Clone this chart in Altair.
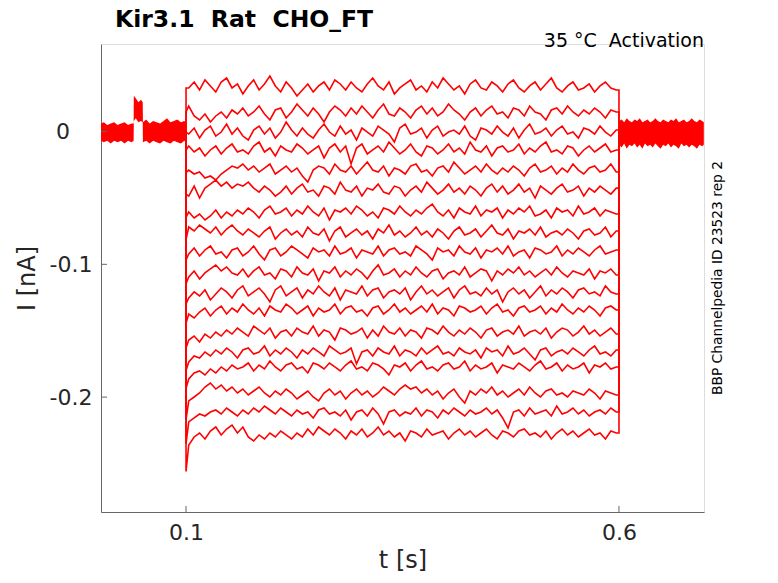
import altair as alt
import pandas as pd

# -----------------------------
# values
# -----------------------------
# steady current of each sweep during the step (nA), top to bottom
levels = [0.0328, 0.0147, -0.0004, -0.0139, -0.0290, -0.0441, -0.0606, -0.0764, -0.0907,
          -0.1065, -0.1208, -0.1344, -0.1510, -0.1660, -0.1773, -0.1969, -0.2112, -0.2270]

# extra dip right at the step onset (nA)
onset_dip = [0, 0, 0, 0, -0.002, -0.003, -0.004, -0.005, -0.006, -0.008, -0.009,
             -0.010, -0.012, -0.014, -0.016, -0.020, -0.024, -0.029]

# wiggle of each sweep around its level, in steps of 1.5 pA, sampled across 0.1-0.6 s
WIGGLE_STEP = 0.0015
wiggle = [
    [0, 3, -1, 4, 1, -2, 3, 5, 0, 2, -3, 1, 4, -1, 2, 6, 1, -2, 3, 0,
     -4, -1, 2, -2, 1, 3, -1, 4, 2, -1, 3, 0, -2, 2, 5, 1, -1, 3, -3, 0,
     2, 4, -1, 1, -2, 3, 0, 5, 2, -1, 1, -3, 2, 4, 0, -1, 3, 1, -2, 2,
     4, 0, -2, 1, 3, -1, 2, 5, 0, -2, 1, 3, -1, 0, 2, -2, 1, 3, 0, -1],
    [3, -2, -4, -1, -5, -2, 0, -3, 1, -1, 2, -2, 0, 3, -1, -4, 1, 2, -3, 0,
     4, 1, -2, 2, -1, -5, 0, 3, 1, -2, 2, -1, 3, 0, -3, 1, 4, -1, -2, 2,
     0, -3, 1, 3, -1, 2, -2, 0, 4, 1, -1, -4, 0, 2, -2, 1, 3, -1, 0, -3,
     2, 1, -2, 3, 0, -1, -4, 1, 2, -1, 3, 0, -2, 1, -1, 2, 0, -3, 1, 0],
    [-1, 2, -3, 1, 3, -2, 0, 4, -1, 2, -2, -4, 1, 3, -1, 2, -3, 0, 5, 1,
     -2, 2, -1, -3, 1, 4, 0, -2, 3, -1, 1, -4, 2, 0, -2, 3, 1, -1, -5, 2,
     4, -1, 0, 2, -3, 1, 3, -2, 0, 1, -1, 3, -2, -4, 2, 1, -1, 3, 0, -2,
     2, -3, 1, 4, -1, 0, 2, -2, 1, 3, -1, 0, -3, 2, 1, -1, 3, 0, -2, 1],
    [2, -1, 1, -3, 0, 2, -2, 1, 3, -1, 0, -2, 2, 4, -1, 1, -3, 2, 0, -1,
     3, 1, -2, 0, 2, -4, 1, 3, -1, 2, -7, 1, 3, -2, 0, 2, -1, 4, 1, -2,
     0, 3, -1, -3, 2, 1, -2, 0, 3, -1, 1, -2, 4, 0, -1, 2, -3, 1, 2, -1,
     0, 3, -2, 1, -1, 2, 4, -1, 0, -2, 2, 1, -3, 0, 2, -1, 1, 3, -1, 0],
    [0, -2, -1, -4, -3, -5, -2, 0, 2, 1, 3, 0, 2, -1, 1, 3, -2, 0, 2, -1,
     1, -3, -6, 0, 2, 1, -2, 3, 0, -1, 2, -2, 1, 4, 0, -1, 2, -3, 1, 0,
     -2, 2, 3, -1, 0, -3, 1, 2, -1, 4, 1, -2, 0, 2, -1, 3, 0, -2, 1, -1,
     2, 0, -3, 1, 3, -1, 0, 2, -2, 1, -1, 3, 0, -2, 1, 2, -1, 0, 3, -1],
    [-3, 2, -4, 1, 3, 5, 2, 4, 1, 3, 2, 4, 1, -1, 2, 0, -3, -1, 2, -2,
     1, 3, -1, 0, -3, 2, 1, -2, 4, 0, -1, 2, -3, 1, 0, 3, -1, -2, 2, 1,
     -3, 0, 2, -1, 4, 1, -2, 0, 3, -1, 1, -2, 2, 0, -3, 1, 3, -1, 2, -2,
     0, 3, -1, 1, -4, 2, 0, -2, 1, 3, -1, 0, 2, -3, 1, -1, 2, 0, -2, 1],
    [0, -3, -1, -4, -2, 1, -3, 0, -2, 1, -1, 2, 0, -3, 1, 3, -1, 0, 2, -2,
     1, -1, 3, 0, -2, 2, -4, 1, 0, 2, -1, 3, 1, -2, 0, -3, 2, 1, -1, 3,
     0, -2, 1, -1, 2, 4, 0, -2, 1, -3, 2, 0, -1, 3, -2, 1, 0, 2, -3, 1,
     -1, 2, 0, 3, -2, -1, 1, -3, 2, 0, 1, -2, 3, -1, 0, 2, -2, 1, 0, -1],
    [3, 1, 4, 2, 0, 3, -1, 2, 4, 1, -1, 2, 0, -2, 1, 3, -3, 0, 2, -1,
     1, -2, 3, 0, -1, 2, -4, 1, 3, -2, 0, 2, -1, 1, -3, 2, 0, 4, -1, 1,
     -2, 0, 3, -1, 1, -2, 2, 0, -3, 1, 3, -1, 0, 2, -2, 1, 4, 0, -1, 2,
     -3, 1, 0, 2, -1, 3, -2, 0, 1, -1, 2, 0, -3, 1, 2, -1, 0, 3, -2, 1],
    [-1, 2, -2, 1, 3, -1, 0, -3, 1, 2, -2, 0, 3, -1, -4, 1, 2, -2, 0, 3,
     1, -1, -3, 2, 0, 1, -2, 3, -1, 0, 2, -3, 1, 0, -1, 3, -2, 1, 2, -1,
     0, -2, 3, 1, -1, -4, 2, 0, 1, -2, 3, 0, -1, 2, -3, 1, 0, 2, -1, 3,
     -2, 0, 1, -3, 2, 1, -1, 0, 3, -2, 1, -1, 2, 0, -2, 1, 3, -1, 0, 1],
    [-2, 1, -3, 0, 2, 4, 1, 3, 0, -1, 2, -2, 1, 3, -1, 0, -3, 2, 1, -2,
     3, 0, -1, 2, -4, 1, 0, 3, -2, 1, -1, 2, 0, -3, 1, 4, -1, 0, 2, -2,
     1, -1, 3, 0, -2, 1, 2, -3, 0, 1, -1, 3, -2, 0, 2, 1, -4, 1, -1, 2,
     0, 3, -1, 1, -2, 0, 2, -1, 3, 0, -2, 1, 0, -1, 2, -3, 1, 0, 2, -1],
    [-3, 0, -2, 1, -4, -1, 2, 0, -3, 1, 3, -2, 0, 2, -1, -5, 1, 3, -2, 0,
     2, -3, 1, -1, 3, 0, -2, 2, -4, 1, 0, -1, 3, -2, 1, 2, -3, 0, 1, -1,
     2, -4, 0, 3, -1, 1, -2, 0, 2, -3, 1, 3, -1, 0, -2, 2, -1, 1, -5, 0,
     2, -1, 1, -3, 0, 3, -2, 1, -1, 2, 0, -3, 1, 2, -1, 0, -2, 3, 0, -1],
    [-2, -4, -1, 1, -3, 0, 2, -2, 1, -1, 3, 0, -2, 1, -3, 2, 0, -1, 3, 1,
     -2, 0, 2, -3, 1, -1, 0, 3, -2, 1, 2, -1, 0, -3, 1, 2, -2, 0, 3, -1,
     1, -2, 0, 2, -1, 3, -2, 1, 0, -3, 2, 1, -1, 0, 2, -2, 1, 3, -1, 0,
     -3, 1, 2, -1, 0, 2, -2, 1, -1, 3, 0, -2, 1, -1, 2, 0, -3, 1, 2, 0],
    [-4, -2, -5, -1, -3, 0, -2, 1, -1, 2, 0, -2, 3, 1, -1, 2, -3, 0, 1, -2,
     2, 0, -1, 3, -2, 1, 0, -4, 2, 1, -1, 0, 2, -3, 1, -2, 3, 0, -1, 2,
     -2, 1, 0, -3, 2, 1, -1, 3, 0, -2, 1, -1, 2, 0, -3, 1, 2, -2, 0, 1,
     -1, 3, -2, 0, 1, -1, 2, -3, 0, 2, 1, -2, 0, 3, -1, 1, -2, 0, 2, -1],
    [-5, -2, -3, 0, -2, 1, -1, 2, 0, -3, 1, 2, -1, 0, 3, -2, 1, -1, 2, 0,
     -3, 1, -1, 2, 0, -2, 3, 1, -1, 0, 2, -6, 0, 1, -2, 2, 0, -1, 3, -2,
     1, 0, -2, 2, -1, 1, 3, -1, 0, -2, 2, 0, -1, 1, -3, 2, 0, 1, -2, 3,
     -1, 0, 2, -1, -4, 1, 2, -2, 0, 1, -1, 2, 0, -2, 1, 3, -1, 0, -2, 1],
    [-6, -3, -2, -4, -1, -3, 0, -2, 1, -1, 0, 2, -2, 1, -1, 3, 0, -2, 1, 2,
     -1, 0, -3, 2, 1, -1, 2, 0, -2, 1, 3, -1, 0, -2, 2, 1, -1, -4, 1, 0,
     2, -2, 1, 3, -1, 0, -2, 1, 2, -1, 0, 3, -2, 1, -1, 0, 2, -3, 1, 0,
     -1, 2, 0, -2, 1, 3, -1, 0, 2, -2, 1, -1, 0, 2, -3, 1, 0, 2, -1, 0],
    [-4, -2, 0, 3, 5, 2, 4, 1, 3, 0, 2, -1, 1, 3, 0, -2, 1, -1, 2, 0,
     -3, -1, 1, -2, -4, 0, 2, -1, 1, -3, 0, 2, -1, 1, -2, 0, 3, 1, -1, 2,
     4, 2, 3, 0, 2, -1, 1, -3, 0, 2, -2, -5, 1, -1, 2, 0, 3, -1, 1, -2,
     0, 2, -1, 3, 0, -2, 1, 2, -1, 0, -2, 1, 0, -1, 2, 0, -3, 1, 0, -1],
    [-5, -3, -1, -2, 0, 1, -1, 2, 0, -2, 1, -1, 2, 0, 3, 1, -1, 2, 0, -2,
     1, -1, 0, -3, 1, 2, -1, 0, -2, 1, -4, 0, 1, -2, 2, -1, -6, 0, 1, -2,
     0, -1, 2, -2, 1, 0, -3, 1, -1, 2, 0, -2, 1, -1, 0, 2, -1, 1, -3, -8,
     0, 1, -2, 2, -1, 0, 1, -2, 3, -1, 0, 2, -1, 1, -2, 0, 1, -1, 2, 0],
    [-6, -2, 0, -3, 1, 3, -1, 2, 4, 0, 3, -2, -4, -1, -3, 0, -2, 1, -1, -3,
     0, -2, 2, -1, 3, 1, -1, 2, 0, -3, 1, -1, 2, -2, 0, 3, -1, 1, -2, 0,
     -4, 1, 0, -2, 2, -1, 0, 1, -3, 0, 2, -1, 1, -2, 0, 2, -1, -3, 1, 0,
     -2, 1, 2, -1, 0, -2, 1, -3, 0, 2, -1, 1, -2, 0, 2, -1, 0, -3, 1, 0],
]

# holding current band before the step, with the short test pulse (nA)
pre_t = [0.0018, 0.005, 0.009, 0.013, 0.017, 0.021, 0.025, 0.029, 0.033, 0.037, 0.0395,
         0.0397, 0.042, 0.045, 0.048, 0.0500, 0.0502, 0.054, 0.058, 0.062, 0.066, 0.070,
         0.074, 0.078, 0.082, 0.086, 0.090, 0.094, 0.098, 0.1]
pre_lo = [-0.007, -0.008, -0.007, -0.009, -0.007, -0.008, -0.007, -0.009, -0.007, -0.008, -0.007,
          0.008, 0.010, 0.007, 0.008, 0.007, -0.008, -0.007, -0.009, -0.007, -0.008, -0.009,
          -0.007, -0.008, -0.009, -0.007, -0.008, -0.009, -0.007, -0.008]
pre_hi = [0.006, 0.007, 0.005, 0.006, 0.007, 0.005, 0.006, 0.007, 0.005, 0.006, 0.006,
          0.027, 0.025, 0.022, 0.024, 0.022, 0.007, 0.009, 0.006, 0.008, 0.007, 0.006,
          0.008, 0.010, 0.007, 0.008, 0.009, 0.007, 0.008, 0.007]

# tail band after the step (nA)
post_t = [0.6002, 0.603, 0.606, 0.609, 0.612, 0.615, 0.618, 0.621, 0.624, 0.627, 0.630,
          0.633, 0.636, 0.639, 0.642, 0.645, 0.648, 0.651, 0.654, 0.657, 0.660, 0.663,
          0.666, 0.669, 0.672, 0.675, 0.678, 0.681, 0.684, 0.687, 0.690, 0.693, 0.696, 0.698]
post_lo = [-0.010, -0.012, -0.009, -0.013, -0.010, -0.011, -0.009, -0.012, -0.010, -0.013, -0.009,
           -0.011, -0.010, -0.012, -0.009, -0.011, -0.013, -0.010, -0.011, -0.009, -0.012, -0.010,
           -0.011, -0.013, -0.009, -0.011, -0.010, -0.012, -0.010, -0.011, -0.013, -0.010, -0.011, -0.010]
post_hi = [0.008, 0.009, 0.007, 0.010, 0.008, 0.007, 0.009, 0.008, 0.010, 0.007, 0.008,
           0.009, 0.007, 0.008, 0.010, 0.008, 0.007, 0.009, 0.008, 0.007, 0.009, 0.008,
           0.010, 0.007, 0.008, 0.009, 0.007, 0.008, 0.010, 0.008, 0.007, 0.009, 0.008, 0.007]

x_ticks = [0.1, 0.6]
y_ticks = [0, -0.1, -0.2]
t_on, t_off = 0.1, 0.6

# -----------------------------
# tables
# -----------------------------
rows = []
for s, (lev, dip, w) in enumerate(zip(levels, onset_dip, wiggle)):
    n = len(w)
    pts = [(t_on, 0.0), (t_on, lev + dip)]
    pts += [(t_on + (k + 0.5) * (t_off - t_on) / n, lev + w[k] * WIGGLE_STEP) for k in range(n)]
    pts += [(t_off, lev + w[-1] * WIGGLE_STEP), (t_off, 0.0)]
    for k, (t, i) in enumerate(pts):
        rows.append({"sweep": s, "k": k, "t": t, "i": i})
traces = pd.DataFrame(rows)

bands = pd.concat([
    pd.DataFrame({"part": "pre", "t": pre_t, "lo": pre_lo, "hi": pre_hi}),
    pd.DataFrame({"part": "post", "t": post_t, "lo": post_lo, "hi": post_hi}),
])

# -----------------------------
# chart
# -----------------------------
FONT = "DejaVu Sans"
INK = "#262626"
AX = "#666666"
RED = "#ff0000"

xs = alt.Scale(domain=[0.0018, 0.6982], nice=False, zero=False)
ys = alt.Scale(domain=[-0.2865, 0.0659], nice=False, zero=False)

x_axis = alt.Axis(values=x_ticks, format=".1f", ticks=False, grid=False, domainColor=AX,
                  labelFontSize=22, labelColor=INK, labelPadding=10, labelFont=FONT,
                  titleFontSize=24, titleFontWeight="normal", titleColor=INK, titleFont=FONT,
                  titlePadding=5)
# the "0" label sits left of the others in the reference, it is drawn as its own text below
y_axis = alt.Axis(values=y_ticks, ticks=False, grid=False, domainColor=AX,
                  labelFontSize=22, labelColor=INK, labelPadding=9, labelFont=FONT,
                  labelExpr="datum.value == 0 ? '' : '-' + format(abs(datum.value), '.1f')",
                  titleFontSize=24, titleFontWeight="normal", titleColor=INK, titleFont=FONT,
                  titlePadding=10)

band = alt.Chart(bands).mark_area(color=RED, opacity=1).encode(
    x=alt.X("t:Q", scale=xs, axis=x_axis, title="t [s]"),
    y=alt.Y("lo:Q", scale=ys, axis=y_axis, title="I [nA]"),
    y2="hi:Q",
    detail="part:N",
)

lines = alt.Chart(traces).mark_line(color=RED, strokeWidth=1.6).encode(
    x=alt.X("t:Q", scale=xs),
    y=alt.Y("i:Q", scale=ys),
    detail="sweep:N",
    order="k:Q",
)

xt = alt.Chart(pd.DataFrame({"t": x_ticks})).mark_rule(color=AX).encode(
    x=alt.X("t:Q", scale=xs), y=alt.value(468), y2=alt.value(462))
yt = alt.Chart(pd.DataFrame({"i": y_ticks})).mark_rule(color=AX).encode(
    y=alt.Y("i:Q", scale=ys), x=alt.value(0), x2=alt.value(6))

zero_lbl = alt.Chart(pd.DataFrame({"i": [0], "lbl": ["0"]})).mark_text(
    align="right", baseline="middle", font=FONT, fontSize=22, color=INK).encode(
    y=alt.Y("i:Q", scale=ys), x=alt.value(-31), text="lbl:N")

one = pd.DataFrame({"a": [0]})
temp = alt.Chart(one).mark_text(align="right", baseline="alphabetic", font=FONT, fontSize=19,
                                color="#000000").encode(
    x=alt.value(603), y=alt.value(3), text=alt.value("35 °C\u00a0 Activation"))
side = alt.Chart(one).mark_text(align="center", baseline="middle", font=FONT, fontSize=13.8,
                                angle=270, color="#000000").encode(
    x=alt.value(617), y=alt.value(234), text=alt.value("BBP Channelpedia ID 23523 rep 2"))

chart = (band + lines + xt + yt + zero_lbl + temp + side).properties(
    width=603, height=468,
    title=alt.TitleParams("Kir3.1\u00a0 Rat\u00a0 CHO_FT", anchor="start", frame="group", dx=14,
                          offset=1, font=FONT, fontSize=23.5, fontWeight="bold", color="#000000"),
    autosize=alt.AutoSizeParams(type="none"),
    padding={"left": 93, "top": 36, "right": 60, "bottom": 62},
).configure_view(stroke=None).configure(background="white")

chart.save("out.html", embed_options={"renderer": "svg", "actions": False})
